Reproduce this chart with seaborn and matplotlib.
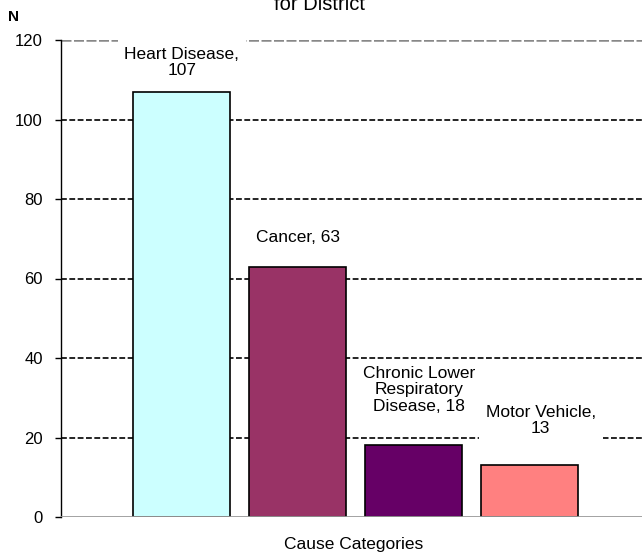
import pandas as pd
import matplotlib
matplotlib.use('Agg')
import matplotlib.pyplot as plt
import seaborn as sns

# data
causes = ['Heart Disease', 'Cancer', 'Chronic Lower\nRespiratory\nDisease', 'Motor Vehicle']
counts = [107, 63, 18, 13]
bar_colors = ['#CCFFFF', '#993366', '#660066', '#FF8080']
bar_labels = ['Heart Disease,\n107', 'Cancer, 63', 'Chronic Lower\nRespiratory\nDisease, 18', 'Motor Vehicle,\n13']
y_ticks = [0, 20, 40, 60, 80, 100, 120]

df = pd.DataFrame({'cause': causes, 'count': counts})

sns.set_style('white')
plt.rcParams['font.family'] = ['Liberation Sans', 'DejaVu Sans']
plt.rcParams['text.color'] = 'black'
plt.rcParams['ytick.color'] = 'black'

fig = plt.figure(figsize=(6.42, 5.56), dpi=100)
ax = fig.add_axes([61 / 642, 1 - 517 / 556, 1 - 61 / 642, 477 / 556])

sns.barplot(data=df, x='cause', y='count', hue='cause', palette=bar_colors,
            legend=False, width=0.835, edgecolor='black', linewidth=1.2,
            saturation=1, ax=ax, zorder=3)

# dashed gridlines, the top one grey
for t in y_ticks[1:-1]:
    ax.axhline(t, color='black', linestyle=(0, (3.5, 1.5)), linewidth=1.2, zorder=1)
ax.axhline(y_ticks[-1], color='#888888', linestyle=(0, (4, 1)), linewidth=1.8, zorder=1)
ax.axhline(0, color='#999999', linewidth=2, zorder=4)

ax.set_xlim(-1.043, 3.97)
ax.set_ylim(0, 120)
ax.set_yticks(y_ticks)
ax.set_xticks([])
ax.tick_params(axis='y', length=4, width=1, direction='out', labelsize=12, pad=9,
               left=True, colors='black')
for s in ['top', 'right', 'bottom']:
    ax.spines[s].set_visible(False)
ax.spines['left'].set_color('black')
ax.spines['left'].set_linewidth(1)
ax.set_xlabel('')
ax.set_ylabel('')

# value labels with white boxes that hide the gridlines
offsets = [(0, 21), (0, 21), (4, 40), (8, 32)]
for i, (lab, v) in enumerate(zip(bar_labels, counts)):
    ax.annotate(lab, xy=(i, v), xytext=offsets[i], textcoords='offset points',
                ha='center', va='center', fontsize=12.5, linespacing=1.1, color='black',
                bbox=dict(boxstyle='square,pad=0.4', facecolor='white', edgecolor='none'),
                zorder=5, annotation_clip=False)

fig.text(354 / 642, 1 - 545 / 556, 'Cause Categories', fontsize=12.5, ha='center', va='center')
fig.text(8 / 642, 1 - 17 / 556, 'N', fontsize=11, fontweight='bold', ha='left', va='center')
fig.text(320 / 642, 1 - 10 / 556, 'for District', fontsize=14.5, ha='center', va='baseline')

fig.savefig('out.png', dpi=100)
